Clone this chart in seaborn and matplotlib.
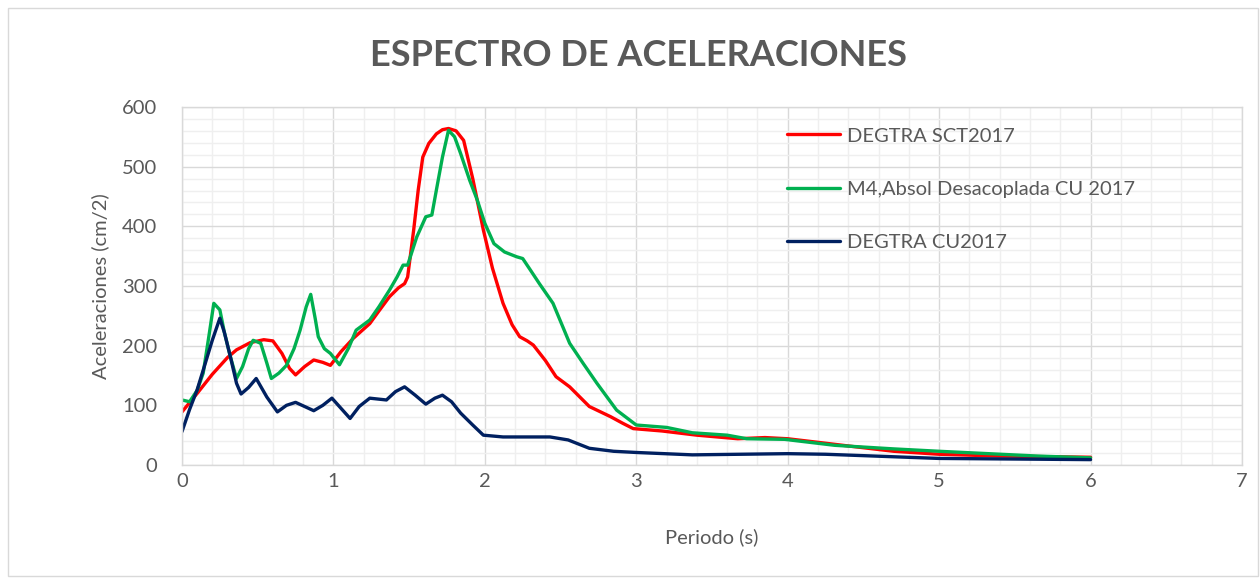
import matplotlib
matplotlib.use("Agg")
import matplotlib.pyplot as plt
import seaborn as sns
import pandas as pd
from matplotlib.patches import Rectangle
from matplotlib.ticker import MultipleLocator

# ---- data ----
labels = ["DEGTRA SCT2017", "M4,Absol Desacoplada CU 2017", "DEGTRA CU2017"]

red_x = [0, 0.1, 0.2, 0.3, 0.36, 0.45, 0.54, 0.60, 0.66, 0.71, 0.75, 0.81, 0.87, 0.93, 0.98,
         1.05, 1.13, 1.24, 1.30, 1.37, 1.43, 1.47, 1.49, 1.53, 1.56, 1.59, 1.63, 1.68, 1.72,
         1.76, 1.81, 1.86, 1.92, 1.99, 2.05, 2.12, 2.18, 2.23, 2.28, 2.32, 2.40, 2.47, 2.56,
         2.69, 2.83, 2.91, 2.98, 3.17, 3.40, 3.67, 3.85, 4.0, 4.2, 4.43, 4.70, 5.0, 5.4, 6.0]
red_y = [89, 120, 152, 180, 193, 205, 210, 208, 187, 162, 151, 165, 176, 172, 167,
         190, 212, 237, 258, 282, 297, 304, 315, 394, 461, 516, 539, 555, 562,
         564, 560, 544, 480, 394, 330, 271, 235, 215, 208, 201, 175, 148, 131,
         98, 81, 70, 61, 57, 50, 44, 46, 44, 38, 31, 23, 18, 15, 13]

green_x = [0, 0.05, 0.10, 0.14, 0.18, 0.21, 0.25, 0.28, 0.32, 0.36, 0.40, 0.44, 0.47, 0.52,
           0.56, 0.59, 0.64, 0.69, 0.74, 0.78, 0.82, 0.85, 0.88, 0.90, 0.94, 0.98, 1.04, 1.10,
           1.15, 1.24, 1.30, 1.37, 1.42, 1.46, 1.49, 1.55, 1.61, 1.65, 1.68, 1.72, 1.76, 1.80,
           1.84, 1.90, 1.95, 2.00, 2.06, 2.13, 2.21, 2.25, 2.30, 2.36, 2.45, 2.56, 2.65, 2.74,
           2.87, 3.0, 3.2, 3.37, 3.6, 3.73, 3.98, 4.31, 4.7, 5.0, 5.65, 6.0]
green_y = [109, 106, 125, 154, 220, 271, 260, 222, 181, 145, 165, 195, 209, 204,
           171, 145, 154, 167, 195, 226, 265, 286, 245, 215, 195, 187, 168, 196,
           226, 243, 265, 293, 315, 335, 335, 382, 416, 419, 461, 516, 561, 550,
           522, 477, 444, 405, 371, 357, 349, 346, 327, 304, 271, 204, 170, 137,
           92, 67, 63, 54, 50, 44, 43, 33, 27, 23, 15, 12]

navy_x = [0, 0.05, 0.10, 0.14, 0.20, 0.25, 0.28, 0.32, 0.36, 0.39, 0.44, 0.49, 0.56, 0.63,
          0.69, 0.75, 0.81, 0.87, 0.93, 0.99, 1.05, 1.11, 1.17, 1.24, 1.35, 1.41, 1.47, 1.54,
          1.61, 1.67, 1.72, 1.78, 1.84, 1.92, 1.99, 2.12, 2.30, 2.43, 2.55, 2.69, 2.85, 3.0,
          3.37, 4.0, 4.25, 5.0, 6.0]
navy_y = [56, 93, 126, 159, 209, 246, 222, 181, 137, 119, 130, 145, 114, 89,
          100, 105, 98, 91, 100, 112, 95, 78, 98, 112, 109, 123, 131, 117,
          102, 112, 117, 106, 87, 67, 50, 47, 47, 47, 42, 28, 23, 21,
          17, 19, 18, 11, 9]

x_ticks = [0, 1, 2, 3, 4, 5, 6, 7]
y_ticks = [0, 100, 200, 300, 400, 500, 600]

colors = ["#FF0000", "#00B050", "#002060"]

# ---- figure ----
sns.set_theme(style="white")
plt.rcParams["font.family"] = ["Lato", "DejaVu Sans"]

W, H = 1260, 578
fig = plt.figure(figsize=(W / 100, H / 100), dpi=100)
fig.patch.set_facecolor("white")
fig.add_artist(Rectangle((8 / W, 2 / H), (W - 10) / W, (H - 10) / H, transform=fig.transFigure,
                         fill=False, edgecolor="#d9d9d9", linewidth=1.0))

ax = fig.add_axes([182 / W, 1 - 465 / H, (1242 - 182) / W, (465 - 107) / H])

series = [(red_x, red_y), (green_x, green_y), (navy_x, navy_y)]
for (xs, ys), lab, col in zip(series, labels, colors):
    df = pd.DataFrame({"Periodo": xs, "Aceleracion": ys})
    sns.lineplot(data=df, x="Periodo", y="Aceleracion", ax=ax, color=col, linewidth=2.4,
                 sort=False, estimator=None, label=lab)
for ln in ax.get_lines():
    ln.set_solid_joinstyle("round")
    ln.set_solid_capstyle("round")

ax.set_xlim(0, 7)
ax.set_ylim(0, 600)
ax.set_xticks(x_ticks)
ax.set_yticks(y_ticks)
ax.xaxis.set_minor_locator(MultipleLocator(0.2))
ax.yaxis.set_minor_locator(MultipleLocator(20))
ax.grid(which="minor", color="#efefef", linewidth=1.0)
ax.grid(which="major", color="#d9d9d9", linewidth=1.0)
ax.set_axisbelow(True)
for s in ax.spines.values():
    s.set_color("#d9d9d9")
    s.set_linewidth(1.0)

ax.tick_params(axis="both", which="both", length=0, labelsize=14.5, labelcolor="#595959")
ax.tick_params(axis="y", pad=18)
ax.tick_params(axis="x", pad=6)

ax.set_xlabel("Periodo (s)", fontsize=14.5, color="#595959")
ax.set_ylabel("Aceleraciones (cm/2)", fontsize=14.5, color="#595959")
ax.xaxis.set_label_coords(0.5, -0.176)
ax.yaxis.set_label_coords(-0.069, 0.5)

fig.text(638 / W, 1 - 56 / H, "ESPECTRO DE ACELERACIONES", ha="center", va="center",
         fontsize=26, fontweight="bold", color="#595959")

leg = ax.legend(loc="upper left", bbox_to_anchor=(0.571, 0.943), frameon=False,
                fontsize=14.5, handlelength=2.6, handletextpad=0.35, labelspacing=1.8,
                borderaxespad=0, borderpad=0)
for t in leg.get_texts():
    t.set_color("#595959")

fig.savefig("out.png", dpi=100, facecolor="white")
